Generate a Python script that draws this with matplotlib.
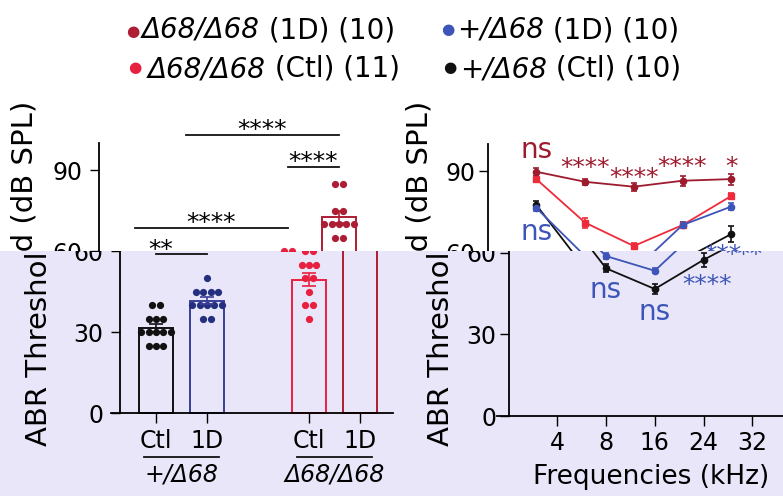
import numpy as np
import matplotlib
matplotlib.use("Agg")
import matplotlib.pyplot as plt
from matplotlib.text import Text
from matplotlib.transforms import Bbox, TransformedBbox

plt.rcParams['font.family'] = ['DejaVu Sans']

# left panel: click ABR thresholds (dB SPL), one value per ear
groups = ["Ctl", "1D", "Ctl", "1D"]
genotypes = ["+/Δ68", "Δ68/Δ68"]
ctl_het = [40, 40, 35, 35, 35, 30, 30, 30, 30, 30, 25, 25, 25]
d1_het = [50, 45, 45, 45, 45, 40, 40, 40, 40, 40, 35, 35]
ctl_hom = [60, 60, 55, 55, 55, 50, 50, 45, 40, 40, 35]
d1_hom = [85, 85, 75, 75, 70, 70, 70, 70, 70, 65, 65]

# right panel: mean thresholds per frequency
freqs = ["4", "8", "16", "24", "32"]
hom_1d = [89.8, 86.1, 84.3, 86.5, 87.1]
hom_1d_err = [1.5, 1.2, 1.5, 1.8, 2.0]
hom_ctl = [87.1, 71.1, 62.5, 70.2, 80.9]
hom_ctl_err = [1.0, 1.8, 1.2, 1.2, 1.0]
het_1d = [76.5, 58.8, 53.4, 70.2, 77.0]
het_1d_err = [1.0, 1.0, 1.0, 1.2, 1.3]
het_ctl = [77.6, 54.3, 46.7, 57.4, 66.9]
het_ctl_err = [1.5, 1.5, 2.0, 2.5, 3.0]

legend_geno = ["Δ68/Δ68", "+/Δ68", "Δ68/Δ68", "+/Δ68"]
legend_rest = [" (1D) (10)", " (1D) (10)", " (Ctl) (11)", " (Ctl) (10)"]

BLACK = '#111111'
NAVY = '#24307f'
NAVY_BAR = '#3a3f98'
RED = '#e8203f'
DARKRED = '#ad1d33'
L_DARKRED = '#9e1b2e'
L_RED = '#ee2b3b'
L_BLUE = '#3d55b8'
LAVENDER = '#e8e6f8'

W, H = 783, 496
SPLIT = (H - 251) / H


def add_ax(fig, x0, yb, x1, yt):
    return fig.add_axes([x0 / W, (H - yb) / H, (x1 - x0) / W, (yb - yt) / H], facecolor='none')


def swarm(center, values, step=0.145):
    vals = np.asarray(values)
    out = np.empty(len(vals))
    for v in np.unique(vals):
        idx = np.where(vals == v)[0]
        out[idx] = center + (np.arange(len(idx)) - (len(idx) - 1) / 2) * step
    return out


def style(ax, pad_y, yticks):
    for s in ['top', 'right']:
        ax.spines[s].set_visible(False)
    for s in ['left', 'bottom']:
        ax.spines[s].set_linewidth(1.3)
    ax.set_ylim(0, 100)
    ax.set_yticks(yticks)
    ax.tick_params(axis='y', length=6.5, width=1.0, labelsize=17, pad=pad_y)
    ax.tick_params(axis='x', length=7, width=1.0, labelsize=17, pad=4)


def draw_panels(fig, dx, dlab, yticks):
    # ---- bar panel
    ax = add_ax(fig, 111 + dx, 413.3, 393 + dx, 143.3)
    style(ax, 5.5, yticks)
    ax.set_xlim(0.118, 5.647)
    ax.spines['left'].set_position(('data', 0.294))
    pos = [1, 2, 4, 5]
    data = [ctl_het, d1_het, ctl_hom, d1_hom]
    bar_cols = [BLACK, NAVY_BAR, RED, DARKRED]
    dot_cols = [BLACK, NAVY, RED, DARKRED]
    for p, vals, bc, dc in zip(pos, data, bar_cols, dot_cols):
        m = np.mean(vals)
        sem = np.std(vals, ddof=1) / np.sqrt(len(vals))
        ax.bar(p, m, width=0.65, fill=False, edgecolor=bc, linewidth=1.4, zorder=2)
        ax.scatter(swarm(p, vals), vals, s=27, color=dc, zorder=3, linewidths=0)
        ax.errorbar(p, m, yerr=sem, color=bc, capsize=5, elinewidth=1.2, capthick=1.2, zorder=4)
    ax.set_xticks(pos, groups)
    ax.set_ylabel("ABR Threshold (dB SPL)", fontsize=21)
    ax.yaxis.set_label_coords((39 + dlab[0]) / W, (H - 273.5) / H, transform=fig.transFigure)
    ax.yaxis.label.set_va('center')
    tr = ax.get_xaxis_transform()
    for c, g in zip([1.5, 4.5], genotypes):
        ax.plot([c - 0.73, c + 0.73], [-0.1617, -0.1617], color=BLACK, lw=1.3,
                transform=tr, clip_on=False)
        ax.text(c, -0.2285, g, transform=tr, ha='center', va='center',
                fontsize=17, fontstyle='italic')
    for x0, x1, y, txt, ty in [(2, 5, 103.1, "****", 102.4), (4, 5, 91.4, "****", 90.6),
                               (1, 4, 68.7, "****", 68.0), (1, 2, 59.0, "**", 58.0)]:
        ax.plot([x0, x1], [y, y], color=BLACK, lw=1.3, clip_on=False)
        ax.text((x0 + x1) / 2, ty, txt, ha='center', va='baseline', fontsize=18, clip_on=False)

    # ---- frequency panel
    ax2 = add_ax(fig, 497 + dx, 416, 784 + dx, 144)
    style(ax2, 2.2, yticks)
    ax2.set_xlim(-0.236, 5.65)
    ax2.spines['left'].set_position(('data', 0))
    x = np.arange(1, len(freqs) + 1)
    for vals, errs, col, mk in [(hom_ctl, hom_ctl_err, L_RED, 's'),
                                (het_ctl, het_ctl_err, BLACK, 'o'),
                                (het_1d, het_1d_err, L_BLUE, 'o'),
                                (hom_1d, hom_1d_err, L_DARKRED, 'o')]:
        ax2.errorbar(x, vals, yerr=errs, color=col, marker=mk, ms=4.5, lw=1.3,
                     capsize=2.5, elinewidth=1.2, capthick=1.2)
    ax2.set_xticks(x, freqs)
    ax2.set_ylabel("ABR Threshold (dB SPL)", fontsize=21)
    ax2.yaxis.set_label_coords((440 + dlab[1]) / W, (H - 273.5) / H, transform=fig.transFigure)
    ax2.yaxis.label.set_va('center')
    ax2.set_xlabel("Frequencies (kHz)", fontsize=19)
    ax2.xaxis.set_label_coords((651.5 + dx) / W, (H - 477) / H, transform=fig.transFigure)
    ax2.xaxis.label.set_va('center')
    for xx, yy, txt, col, fs in [(1, 94.9, "ns", L_DARKRED, 20), (2, 88.7, "****", L_DARKRED, 18),
                                 (3, 85.0, "****", L_DARKRED, 18), (4, 89.0, "****", L_DARKRED, 18),
                                 (5, 89.0, "*", L_DARKRED, 18), (1, 64.7, "ns", L_BLUE, 20),
                                 (2, 43.4, "ns", L_BLUE, 20), (3, 35.3, "ns", L_BLUE, 20),
                                 (4.07, 45.7, "****", L_BLUE, 18), (4.83, 56.7, "***", L_BLUE, 18)]:
        ax2.text(xx, yy, txt, color=col, ha='center', va='baseline', fontsize=fs, clip_on=False)
    return [ax, ax2]


def clip_to(axes, box, renderer):
    for ax in axes:
        for art in ax.findobj():
            art.set_clip_box(box)
            art.set_clip_on(True)
            # texts that fall wholly in the other strip are not shown at all
            if isinstance(art, Text) and art.get_text():
                if not art.get_window_extent(renderer).overlaps(box):
                    art.set_visible(False)


fig = plt.figure(figsize=(W / 100, H / 100), dpi=100, facecolor='white')
fig.patches.append(plt.Rectangle((0, 0), 1, SPLIT, transform=fig.transFigure,
                                 facecolor=LAVENDER, edgecolor='none', zorder=-1))

bottom_box = TransformedBbox(Bbox([[0, 0], [1, SPLIT]]), fig.transFigure)
top_box = TransformedBbox(Bbox([[0, SPLIT], [1, 1]]), fig.transFigure)
bottom_axes = draw_panels(fig, 0, (0, 0), [0, 30, 60])
top_axes = draw_panels(fig, -21, (-14, -21), [60, 90])
fig.canvas.draw()
renderer = fig.canvas.get_renderer()
clip_to(bottom_axes, bottom_box, renderer)
clip_to(top_axes, top_box, renderer)

# legend (top strip)
for (mx, my), (tx, ty), col, geno, rest in zip([(133, 32), (448, 30), (135, 67), (450, 67)],
                                               [(142, 38), (457, 38), (148, 77), (460, 77)],
                                               [DARKRED, L_BLUE, RED, BLACK],
                                               legend_geno, legend_rest):
    fig.text(mx / W, (H - my) / H, "●", color=col, fontsize=11, ha='center', va='center')
    t = fig.text(tx / W, (H - ty) / H, geno, fontsize=20, fontstyle='italic',
                 ha='left', va='baseline')
    w = t.get_window_extent(renderer).width
    fig.text((tx + w) / W, (H - ty) / H, rest, fontsize=20, ha='left', va='baseline')

fig.savefig("out.png", dpi=100)
